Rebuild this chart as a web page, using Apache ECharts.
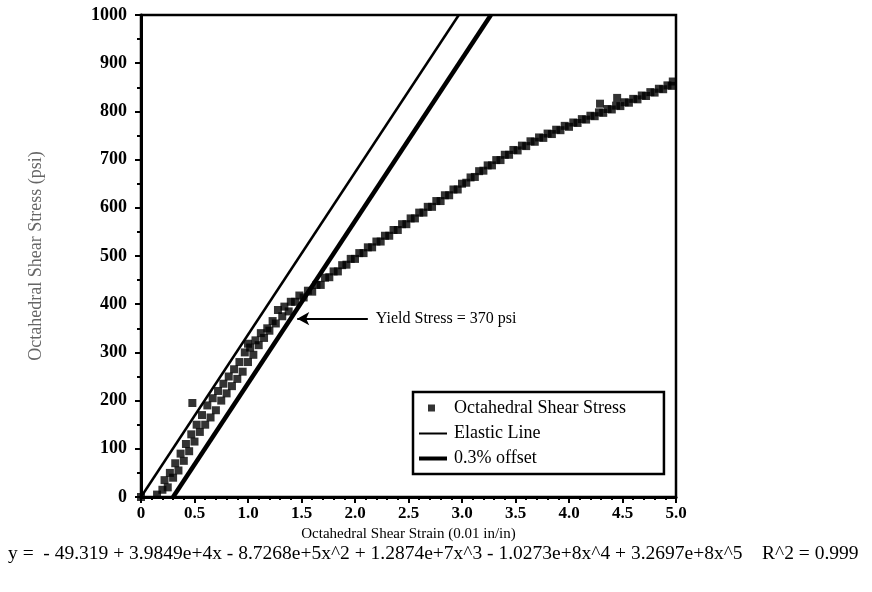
<!DOCTYPE html>
<html>
<head>
<meta charset="utf-8">
<title>Octahedral Shear Stress vs Strain</title>
<script src="https://cdn.jsdelivr.net/npm/echarts@6/dist/echarts.min.js"></script>
<style>
  html, body { margin: 0; padding: 0; background: #fff; }
  #chart { width: 872px; height: 592px; }
</style>
</head>
<body>
<div id="chart"></div>
<script>
// Measured octahedral shear strain (0.01 in/in) and stress (psi)
const strain = [
  0, 0.15, 0.2, 0.22, 0.25, 0.27, 0.3, 0.32, 0.35, 0.37, 0.4, 0.42, 0.45, 0.47, 0.48,
  0.5, 0.52, 0.55, 0.57, 0.6, 0.62, 0.65, 0.67, 0.7, 0.72, 0.75, 0.77, 0.8, 0.82, 0.85,
  0.87, 0.9, 0.92, 0.95, 0.97, 1.0, 1.0, 1.02, 1.05, 1.07, 1.1, 1.12, 1.15, 1.18, 1.2,
  1.23, 1.26, 1.28, 1.32, 1.34, 1.38, 1.4,
  1.44, 1.48, 1.52, 1.56, 1.6, 1.64, 1.68, 1.72, 1.76, 1.8, 1.84, 1.88, 1.92, 1.96,
  2.0, 2.04, 2.08, 2.12, 2.16, 2.2, 2.24, 2.28, 2.32, 2.36, 2.4, 2.44, 2.48, 2.52,
  2.56, 2.6, 2.64, 2.68, 2.72, 2.76, 2.8, 2.84, 2.88, 2.92, 2.96, 3.0, 3.04, 3.08,
  3.12, 3.16, 3.2, 3.24, 3.28, 3.32, 3.36, 3.4, 3.44, 3.48, 3.52, 3.56, 3.6, 3.64,
  3.68, 3.72, 3.76, 3.8, 3.84, 3.88, 3.92, 3.96, 4.0, 4.04, 4.08, 4.12, 4.16, 4.2,
  4.24, 4.28, 4.29, 4.32, 4.36, 4.4, 4.44, 4.45, 4.48, 4.52, 4.56, 4.6, 4.64, 4.68,
  4.72, 4.76, 4.8, 4.84, 4.88, 4.92, 4.96, 4.97
];
const stress = [
  0, 5, 15, 35, 20, 50, 40, 70, 55, 90, 75, 110, 95, 130, 195,
  115, 150, 135, 170, 150, 190, 165, 205, 180, 220, 200, 235, 215, 250, 230,
  265, 245, 280, 260, 300, 280, 318, 310, 295, 325, 315, 340, 330, 350, 345,
  365, 360, 388, 375, 395, 385, 405,
  405, 418, 414, 428, 426, 440, 440, 455, 456, 468, 468, 481, 482, 494,
  494, 506, 506, 518, 518, 530, 530, 542, 542, 554, 554, 566, 566, 578,
  578, 590, 590, 602, 602, 614, 614, 626, 626, 638, 638, 650, 652, 663,
  664, 676, 677, 688, 688, 699, 699, 710, 710, 720, 719, 729, 728, 738,
  737, 746, 745, 754, 753, 762, 761, 770, 768, 777, 776, 784, 783, 791,
  790, 798, 816, 797, 805, 804, 812, 828, 811, 819, 818, 826, 825, 833,
  832, 840, 839, 847, 846, 854, 853, 862
];

// Elastic line and the same line shifted by 0.3 strain
const elasticStrain = [0, 2.97];
const elasticStress = [0, 1000];
const offsetStrain = [0.3, 3.27];
const offsetStress = [0, 1000];

const yieldStress = 370;
const yieldArrowFrom = 2.12;
const yieldArrowTo = 1.46;

const xTicks = [0, 0.5, 1.0, 1.5, 2.0, 2.5, 3.0, 3.5, 4.0, 4.5, 5.0];
const yTicks = [0, 100, 200, 300, 400, 500, 600, 700, 800, 900, 1000];

const fitText = 'y =  - 49.319 + 3.9849e+4x - 8.7268e+5x^2 + 1.2874e+7x^3 - 1.0273e+8x^4 + 3.2697e+8x^5    R^2 = 0.999';

const zip = (a, b) => a.map((v, i) => [v, b[i]]);
const serif = '"Liberation Serif", "DejaVu Serif", serif';

const chart = echarts.init(document.getElementById('chart'), null, { renderer: 'canvas' });

chart.setOption({
  animation: false,
  backgroundColor: '#fff',
  grid: {
    left: 141, right: 196, top: 15, bottom: 95,
    show: true, borderColor: '#000', borderWidth: 2.5, backgroundColor: 'transparent'
  },
  xAxis: {
    type: 'value',
    min: xTicks[0], max: xTicks[xTicks.length - 1], interval: 0.5,
    name: 'Octahedral Shear Strain (0.01 in/in)',
    nameLocation: 'middle', nameGap: 28,
    nameTextStyle: { fontFamily: serif, fontSize: 15, color: '#000' },
    axisLine: { show: true, lineStyle: { color: '#000', width: 3 } },
    axisTick: { show: true, length: 6, lineStyle: { color: '#000', width: 2 } },
    minorTick: { show: true, splitNumber: 5, length: 3, lineStyle: { color: '#000', width: 2 } },
    axisLabel: {
      margin: 8, fontFamily: serif, fontSize: 17, fontWeight: 'bold', color: '#000',
      formatter: v => (v === 0 ? '0' : v.toFixed(1))
    },
    splitLine: { show: false }
  },
  yAxis: {
    type: 'value',
    min: yTicks[0], max: yTicks[yTicks.length - 1], interval: 100,
    name: 'Octahedral Shear Stress (psi)',
    nameLocation: 'middle', nameGap: 96,
    nameTextStyle: { fontFamily: serif, fontSize: 18, color: '#666' },
    axisLine: { show: true, lineStyle: { color: '#000', width: 3 } },
    axisTick: { show: true, length: 6, lineStyle: { color: '#000', width: 2 } },
    minorTick: { show: true, splitNumber: 2, length: 4, lineStyle: { color: '#000', width: 2 } },
    axisLabel: {
      margin: 14, fontFamily: serif, fontSize: 18, fontWeight: 'bold', color: '#000',
      formatter: v => String(v)
    },
    splitLine: { show: false }
  },
  legend: {
    orient: 'vertical',
    left: 413, top: 392,
    padding: [7, 38, 7, 6],
    itemGap: 7, itemWidth: 28, itemHeight: 17,
    borderColor: '#000', borderWidth: 2.5, backgroundColor: '#fff',
    textStyle: { fontFamily: serif, fontSize: 18, color: '#000', padding: [0, 0, 0, 2] },
    data: [
      { name: 'Octahedral Shear Stress', icon: 'path://M0,0M28,17M9,5h7v7h-7z' },
      { name: 'Elastic Line', icon: 'path://M0,0M28,17M0,8h28v2h-28z' },
      { name: '0.3% offset', icon: 'path://M0,0M28,17M0,7h28v4h-28z' }
    ]
  },
  series: [
    {
      name: 'Elastic Line',
      type: 'line',
      data: zip(elasticStrain, elasticStress),
      symbol: 'none',
      lineStyle: { color: '#000', width: 2.5 },
      itemStyle: { color: '#000' },
      z: 2
    },
    {
      name: '0.3% offset',
      type: 'line',
      data: zip(offsetStrain, offsetStress),
      symbol: 'none',
      lineStyle: { color: '#000', width: 4.5 },
      itemStyle: { color: '#000' },
      z: 2
    },
    {
      name: 'Octahedral Shear Stress',
      type: 'scatter',
      data: zip(strain, stress),
      symbol: 'rect',
      symbolSize: 8,
      itemStyle: { color: '#000' },
      z: 3,
      markLine: {
        silent: true,
        symbol: ['none', 'arrow'],
        symbolSize: [10, 12],
        lineStyle: { color: '#000', width: 2, type: 'solid' },
        label: {
          show: true, position: 'start', distance: 8,
          formatter: 'Yield Stress = ' + yieldStress + ' psi',
          fontFamily: serif, fontSize: 16, color: '#000'
        },
        data: [[
          { coord: [yieldArrowFrom, yieldStress] },
          { coord: [yieldArrowTo, yieldStress] }
        ]]
      }
    }
  ],
  graphic: [
    {
      type: 'text', left: 8, top: 544,
      style: { text: fitText, fontFamily: serif, fontSize: 19.5, fill: '#000' }
    }
  ]
});
</script>
</body>
</html>
